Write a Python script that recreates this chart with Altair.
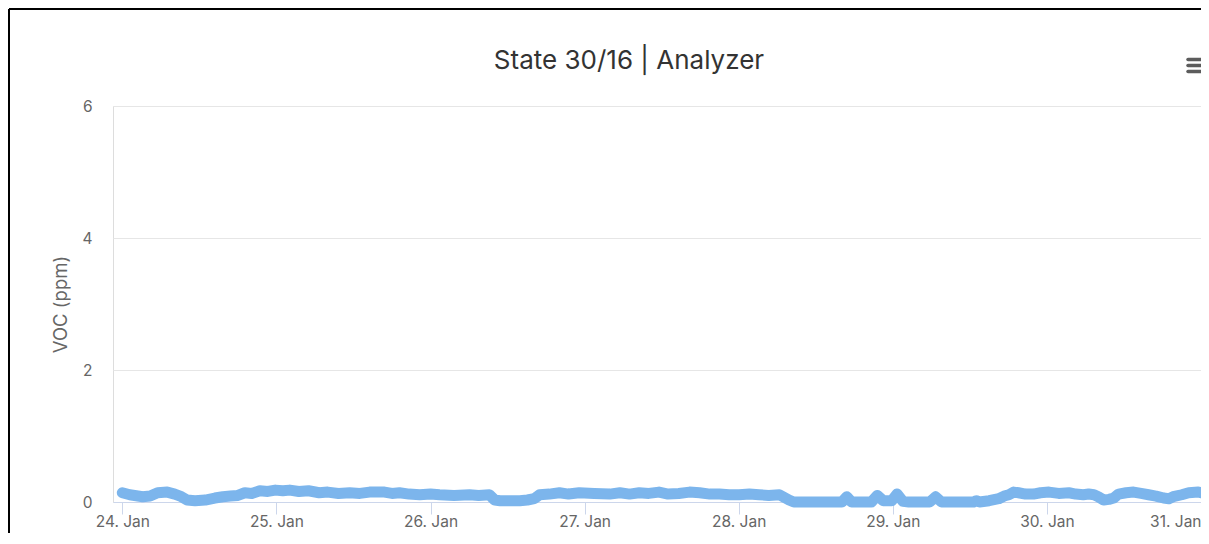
import altair as alt
import pandas as pd

# Timestamps (local time) and VOC readings (ppm)
times = [
    "2023-01-24T00:00", "2023-01-24T01:10", "2023-01-24T03:10", "2023-01-24T04:20",
    "2023-01-24T05:30", "2023-01-24T07:00", "2023-01-24T08:10", "2023-01-24T09:00",
    "2023-01-24T10:05", "2023-01-24T11:20", "2023-01-24T12:55", "2023-01-24T14:25",
    "2023-01-24T15:40", "2023-01-24T16:50", "2023-01-24T18:00", "2023-01-24T19:05",
    "2023-01-24T20:10", "2023-01-24T21:25", "2023-01-24T22:40", "2023-01-24T23:50",
    "2023-01-25T01:00", "2023-01-25T02:05", "2023-01-25T03:30", "2023-01-25T05:00",
    "2023-01-25T06:40", "2023-01-25T08:00", "2023-01-25T09:40", "2023-01-25T11:25",
    "2023-01-25T13:00", "2023-01-25T14:30", "2023-01-25T16:50", "2023-01-25T18:00",
    "2023-01-25T19:10", "2023-01-25T20:40", "2023-01-25T22:20", "2023-01-26T00:00",
    "2023-01-26T01:25", "2023-01-26T03:40", "2023-01-26T06:05", "2023-01-26T07:30",
    "2023-01-26T09:10", "2023-01-26T10:00", "2023-01-26T10:50", "2023-01-26T13:55",
    "2023-01-26T15:05", "2023-01-26T16:10", "2023-01-26T17:00", "2023-01-26T18:30",
    "2023-01-26T20:05", "2023-01-26T21:30", "2023-01-26T23:10", "2023-01-27T01:30",
    "2023-01-27T03:55", "2023-01-27T05:30", "2023-01-27T07:00", "2023-01-27T08:30",
    "2023-01-27T10:00", "2023-01-27T11:35", "2023-01-27T13:00", "2023-01-27T14:40",
    "2023-01-27T16:20", "2023-01-27T17:55", "2023-01-27T19:30", "2023-01-27T21:00",
    "2023-01-27T22:30", "2023-01-28T00:05", "2023-01-28T01:40", "2023-01-28T03:10",
    "2023-01-28T04:40", "2023-01-28T06:20", "2023-01-28T07:50", "2023-01-28T08:35",
    "2023-01-28T16:05", "2023-01-28T16:50", "2023-01-28T17:35", "2023-01-28T20:40",
    "2023-01-28T21:35", "2023-01-28T22:30", "2023-01-28T23:50", "2023-01-29T00:40",
    "2023-01-29T01:35", "2023-01-29T02:30", "2023-01-29T05:45", "2023-01-29T06:40",
    "2023-01-29T07:35", "2023-01-29T12:35", "2023-01-29T13:00", "2023-01-29T13:30",
    "2023-01-29T15:00", "2023-01-29T16:30", "2023-01-29T17:20", "2023-01-29T18:05",
    "2023-01-29T18:50", "2023-01-29T19:35", "2023-01-29T20:40", "2023-01-29T21:55",
    "2023-01-29T23:00", "2023-01-30T00:20", "2023-01-30T01:50", "2023-01-30T03:25",
    "2023-01-30T04:30", "2023-01-30T05:40", "2023-01-30T06:30", "2023-01-30T07:20",
    "2023-01-30T08:00", "2023-01-30T08:50", "2023-01-30T09:40", "2023-01-30T10:25",
    "2023-01-30T11:10", "2023-01-30T12:20", "2023-01-30T13:30", "2023-01-30T14:40",
    "2023-01-30T15:50", "2023-01-30T17:00", "2023-01-30T18:10", "2023-01-30T19:00",
    "2023-01-30T19:40", "2023-01-30T21:00", "2023-01-30T22:05", "2023-01-30T23:35",
    "2023-01-31T00:00",
]
voc = [
    0.14, 0.11, 0.08, 0.09,
    0.14, 0.15, 0.12, 0.09,
    0.03, 0.02, 0.03, 0.06,
    0.08, 0.09, 0.10, 0.14,
    0.13, 0.17, 0.16, 0.18,
    0.17, 0.18, 0.16, 0.17,
    0.14, 0.15, 0.13, 0.14,
    0.13, 0.15, 0.15, 0.13,
    0.14, 0.12, 0.11, 0.12,
    0.11, 0.10, 0.11, 0.10,
    0.11, 0.03, 0.02, 0.02,
    0.03, 0.05, 0.11, 0.12,
    0.14, 0.12, 0.14, 0.13,
    0.12, 0.14, 0.12, 0.14,
    0.13, 0.15, 0.12, 0.13,
    0.15, 0.14, 0.12, 0.12,
    0.11, 0.11, 0.12, 0.11,
    0.10, 0.11, 0.03, 0.00,
    0.00, 0.08, 0.00, 0.00,
    0.10, 0.02, 0.02, 0.12,
    0.01, 0.00, 0.00, 0.08,
    0.00, 0.00, 0.02, 0.00,
    0.02, 0.05, 0.09, 0.11,
    0.15, 0.14, 0.12, 0.12,
    0.14, 0.15, 0.13, 0.14,
    0.12, 0.11, 0.12, 0.11,
    0.08, 0.03, 0.04, 0.06,
    0.12, 0.14, 0.15, 0.13,
    0.11, 0.09, 0.06, 0.05,
    0.08, 0.11, 0.14, 0.15,
    0.14,
]
assert len(times) == len(voc)

y_ticks = [0, 2, 4, 6]
x_tick_days = [24, 25, 26, 27, 28, 29, 30, 31]
title_text = "State 30/16 | Analyzer"

df = pd.DataFrame({"time": times, "voc": voc})

FONT = "Inter"
W, H = 1088, 396

x_scale = alt.Scale(
    domain=[
        alt.DateTime(year=2023, month=1, date=23, hours=22, minutes=33),
        alt.DateTime(year=2023, month=1, date=31, hours=0, minutes=0),
    ]
)

line = alt.Chart(df).mark_line(
    color="#7cb5ec", strokeWidth=11, strokeCap="round", strokeJoin="round"
).encode(
    x=alt.X(
        "time:T",
        scale=x_scale,
        axis=alt.Axis(
            title=None,
            values=[alt.DateTime(year=2023, month=1, date=d) for d in x_tick_days],
            format="%-d. %b",
            grid=False,
            domainColor="#ccd6eb",
            tickColor="#ccd6eb",
            tickSize=12,
            labelPadding=0,
            labelFlush=True,
            labelOverlap=False,
            labelFont=FONT,
            labelFontSize=15.5,
            labelColor="#666666",
        ),
    ),
    y=alt.Y(
        "voc:Q",
        scale=alt.Scale(domain=[0, 6], nice=False),
        axis=alt.Axis(
            title="VOC (ppm)",
            values=y_ticks,
            domain=False,
            ticks=False,
            gridColor="#e6e6e6",
            labelPadding=21,
            labelFont=FONT,
            labelFontSize=15.5,
            labelColor="#666666",
            titleFont=FONT,
            titleFontSize=18.5,
            titleFontWeight="normal",
            titleColor="#666666",
            titleX=-53,
            titleY=H / 2,
            titleAngle=270,
            titleAlign="center",
            titleBaseline="middle",
        ),
    ),
)

deco_df = pd.DataFrame({"k": [0]})

title = alt.Chart(deco_df).mark_text(
    text=title_text, font=FONT, fontSize=26, color="#333333",
    align="center", baseline="middle",
).encode(x=alt.value(516), y=alt.value(-45))

frame_left = alt.Chart(deco_df).mark_rule(color="#000000", strokeWidth=2).encode(
    x=alt.value(-104), y=alt.value(-97), y2=alt.value(H + 40)
)
frame_top = alt.Chart(deco_df).mark_rule(color="#000000", strokeWidth=2).encode(
    x=alt.value(-104), x2=alt.value(W + 10), y=alt.value(-97)
)
menu = [
    alt.Chart(deco_df).mark_rule(color="#5c5c5c", strokeWidth=3.5, strokeCap="round").encode(
        x=alt.value(1075), x2=alt.value(W + 10), y=alt.value(yy)
    )
    for yy in (-46.5, -40.5, -34.5)
]

chart = alt.layer(line, title, frame_left, frame_top, *menu).properties(
    width=W,
    height=H,
    padding={"left": 105, "top": 98, "right": 0, "bottom": 31},
    autosize=alt.AutoSizeParams(type="none"),
).configure_view(stroke=None).configure(background="white")

chart.save("out.html", embed_options={"renderer": "svg", "actions": False})
